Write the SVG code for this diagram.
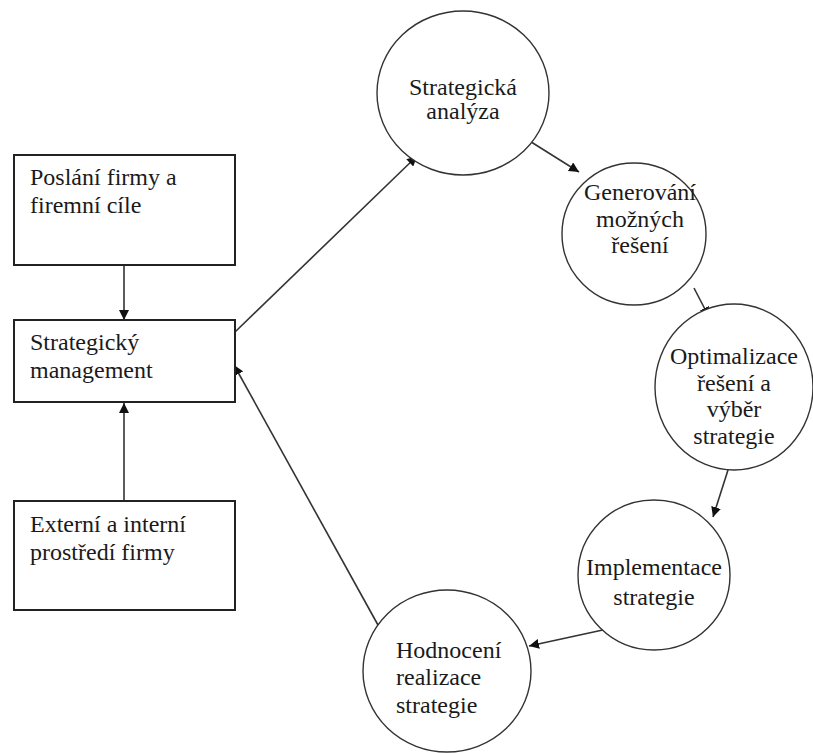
<svg xmlns="http://www.w3.org/2000/svg" width="813" height="753" viewBox="0 0 813 753">
<defs>
<marker id="ah" viewBox="0 0 10 10" refX="10" refY="5" markerWidth="10" markerHeight="10" markerUnits="userSpaceOnUse" orient="auto">
<path d="M0,0 L10,5 L0,10 z" fill="#111"/>
</marker>
<style>
.box{fill:#fff;stroke:#222;stroke-width:2}
.node{fill:#fff;stroke:#333;stroke-width:1.4}
.t{font-family:"Liberation Serif","Times New Roman",serif;font-size:24px;fill:#1a1a1a}
.c{text-anchor:middle}
.ln{stroke:#333;stroke-width:1.6;fill:none}
</style>
</defs>
<rect width="813" height="753" fill="#fff"/>
<g id="connectors">
<line class="ln" x1="124" y1="265" x2="124" y2="320" marker-end="url(#ah)"/>
<line class="ln" x1="124" y1="501" x2="124" y2="403" marker-end="url(#ah)"/>
<line class="ln" x1="235" y1="332" x2="417" y2="156" marker-end="url(#ah)"/>
<line class="ln" x1="528" y1="140" x2="579" y2="172" marker-end="url(#ah)"/>
<line class="ln" x1="694" y1="288" x2="709" y2="317" marker-end="url(#ah)"/>
<line class="ln" x1="728" y1="470" x2="713" y2="517" marker-end="url(#ah)"/>
<line class="ln" x1="612" y1="628" x2="529" y2="646" marker-end="url(#ah)"/>
<line class="ln" x1="378" y1="625" x2="234" y2="365" marker-end="url(#ah)"/>
</g>
<g id="poslani">
<rect class="box" x="14" y="155" width="221" height="110"/>
<text class="t" x="30" y="185">Poslání firmy a</text>
<text class="t" x="30" y="213">firemní cíle</text>
</g>
<g id="strategicky">
<rect class="box" x="14" y="320" width="221" height="82"/>
<text class="t" x="30" y="350">Strategický</text>
<text class="t" x="30" y="378">management</text>
</g>
<g id="externi">
<rect class="box" x="14" y="501" width="221" height="109"/>
<text class="t" x="30" y="532">Externí a interní</text>
<text class="t" x="30" y="560">prostředí firmy</text>
</g>
<g id="analyza">
<ellipse class="node" cx="463" cy="93" rx="86" ry="82"/>
<text class="t c" x="463" y="95">Strategická</text>
<text class="t c" x="463" y="119">analýza</text>
</g>
<g id="generovani">
<ellipse class="node" cx="634" cy="234" rx="72" ry="71"/>
<text class="t c" x="640" y="200">Generování</text>
<text class="t c" x="640" y="227">možných</text>
<text class="t c" x="640" y="253">řešení</text>
</g>
<g id="optimalizace">
<ellipse class="node" cx="734" cy="387" rx="79" ry="83"/>
<text class="t c" x="734" y="364">Optimalizace</text>
<text class="t c" x="734" y="391">řešení a</text>
<text class="t c" x="734" y="417">výběr</text>
<text class="t c" x="734" y="444">strategie</text>
</g>
<g id="implementace">
<ellipse class="node" cx="654" cy="575" rx="76" ry="75"/>
<text class="t c" x="654" y="575">Implementace</text>
<text class="t c" x="654" y="605">strategie</text>
</g>
<g id="hodnoceni">
<ellipse class="node" cx="447" cy="671" rx="84" ry="81"/>
<text class="t" x="396" y="658">Hodnocení</text>
<text class="t" x="396" y="685">realizace</text>
<text class="t" x="396" y="713">strategie</text>
</g>
</svg>
